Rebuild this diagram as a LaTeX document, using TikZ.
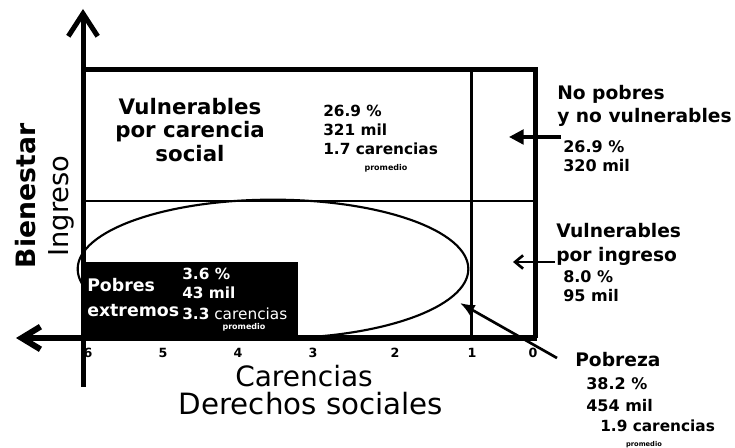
\documentclass[tikz,border=0pt]{standalone}
\usepackage{fontspec}
\setmainfont{DejaVu Sans}
\usetikzlibrary{arrows.meta}
\newcommand{\myfs}[1]{\fontsize{#1}{#1}\selectfont}
\begin{document}
\begin{tikzpicture}[x=0.75pt,y=-0.75pt,
  lbl/.style={inner sep=0pt, anchor=base west},
  clbl/.style={inner sep=0pt, anchor=base},
  title/.style={font=\myfs{16}\bfseries},
  rtitle/.style={font=\myfs{14}\bfseries},
  num/.style={font=\myfs{11.5}\bfseries},
  rnum/.style={font=\myfs{12}\bfseries},
  tick/.style={inner sep=0pt, anchor=base, font=\myfs{9.5}\bfseries},
  prom/.style={inner sep=0pt, anchor=base, font=\myfs{6}\bfseries},
  whitetxt/.style={text=white},
  axis/.style={line width=3.75pt},
  frame/.style={line width=3.75pt, line join=miter},
  divider/.style={line width=2.25pt},
  thin/.style={line width=1.3pt},
  pointer/.style={line width=2pt}]
\useasboundingbox (0,0) rectangle (735,448);

% coordinates
\coordinate (ytop) at (83,9);
\coordinate (ybot) at (83,387);
\coordinate (xleft) at (16,338);
\coordinate (xright) at (537,338);
\coordinate (TL) at (83,70);
\coordinate (TR) at (535,70);
\coordinate (BR) at (535,338);
\coordinate (midT) at (471,70);
\coordinate (midB) at (471,338);
\coordinate (hl) at (83,201);
\coordinate (hr) at (535,201);
\coordinate (BoxA) at (83,262);
\coordinate (BoxB) at (298,338);

% ellipse (poverty)
\draw[line width=1.6pt] (273,269) ellipse [x radius=146.5pt, y radius=52pt];

% extreme poverty box
\fill[black] (BoxA) rectangle (BoxB);

% grid lines
\draw[thin] (hl) -- (hr);
\draw[divider] (midT) -- (midB);
\draw[frame] (TL) -- (TR) -- (BR);

% axes
\draw[axis, -{Straight Barb[length=17pt,width=22pt]}] (ybot) -- (ytop);
\draw[line width=4.5pt, -{Straight Barb[length=14pt,width=17pt]}] (xright) -- (xleft);

% axis labels
\node[rotate=90, anchor=base, inner sep=0pt, font=\myfs{20}\bfseries] (bien) at (35,196) {Bienestar};
\node[rotate=90, anchor=base, inner sep=0pt, font=\myfs{20.5}] (ingr) at (68,206) {Ingreso};
\node[clbl, font=\myfs{21}] (car) at (304,387) {Carencias};
\node[clbl, font=\myfs{22}] (der) at (311,415) {Derechos sociales};

% ticks
\node[tick] (t6) at (88,358) {6};
\node[tick] (t5) at (163,358) {5};
\node[tick] (t4) at (238,358) {4};
\node[tick] (t3) at (313,358) {3};
\node[tick] (t2) at (395,358) {2};
\node[tick] (t1) at (472,358) {1};
\node[tick] (t0) at (533,358) {0};

% upper-left region
\node[clbl, title] (v1) at (190,115) {Vulnerables};
\node[clbl, title] (v2) at (190,138) {por carencia};
\node[clbl, title] (v3) at (190,162) {social};
\node[lbl, num] (a1) at (323,117) {26.9 \%};
\node[lbl, num] (a2) at (323,136) {321 mil};
\node[lbl, num] (a3) at (323,155) {1.7 carencias};
\node[prom] (a4) at (386,171) {promedio};

% extreme poverty text
\node[lbl, font=\myfs{13}\bfseries, whitetxt] (pe1) at (87,292) {Pobres};
\node[lbl, font=\myfs{13}\bfseries, whitetxt] (pe2) at (87,317) {extremos};
\node[lbl, num, whitetxt] (b1) at (182,280) {3.6 \%};
\node[lbl, num, whitetxt] (b2) at (182,299) {43 mil};
\node[lbl, whitetxt, font=\myfs{11.5}] (b3) at (182,320) {\textbf{3.3} carencias};
\node[prom, whitetxt] (b4) at (244,330) {promedio};

% right labels: no pobres
\node[lbl, rtitle] (np1) at (557,100) {No pobres};
\node[lbl, rtitle] (np2) at (557,123) {y no vulnerables};
\node[lbl, rnum] (np3) at (563,153) {26.9 \%};
\node[lbl, rnum] (np4) at (563,172) {320 mil};
\coordinate (npS) at (561,137);
\coordinate (npT) at (509,137);
\draw[line width=2.5pt, -{Triangle[length=11pt,width=11pt]}] (npS) -- (npT);

% right labels: vulnerables por ingreso
\node[lbl, rtitle] (vi1) at (556,238) {Vulnerables};
\node[lbl, rtitle] (vi2) at (556,262) {por ingreso};
\node[lbl, rnum] (vi3) at (563,283) {8.0 \%};
\node[lbl, rnum] (vi4) at (563,302) {95 mil};
\coordinate (viS) at (555,262);
\coordinate (viT) at (513,262);
\draw[pointer, -{Straight Barb[length=6pt,width=10pt]}] (viS) -- (viT);

% pobreza
\node[lbl, rtitle] (p1) at (575,367) {Pobreza};
\node[lbl, rnum] (p2) at (586,390) {38.2 \%};
\node[lbl, rnum] (p3) at (586,412) {454 mil};
\node[lbl, num] (p4) at (600,432) {1.9 carencias};
\node[prom, font=\myfs{5}\bfseries] (p5) at (644,446) {promedio};
\coordinate (pS) at (557,358);
\coordinate (pT) at (460,303);
\draw[pointer, -{Latex[length=11pt,width=9pt]}] (pS) -- (pT);
\end{tikzpicture}
\end{document}
